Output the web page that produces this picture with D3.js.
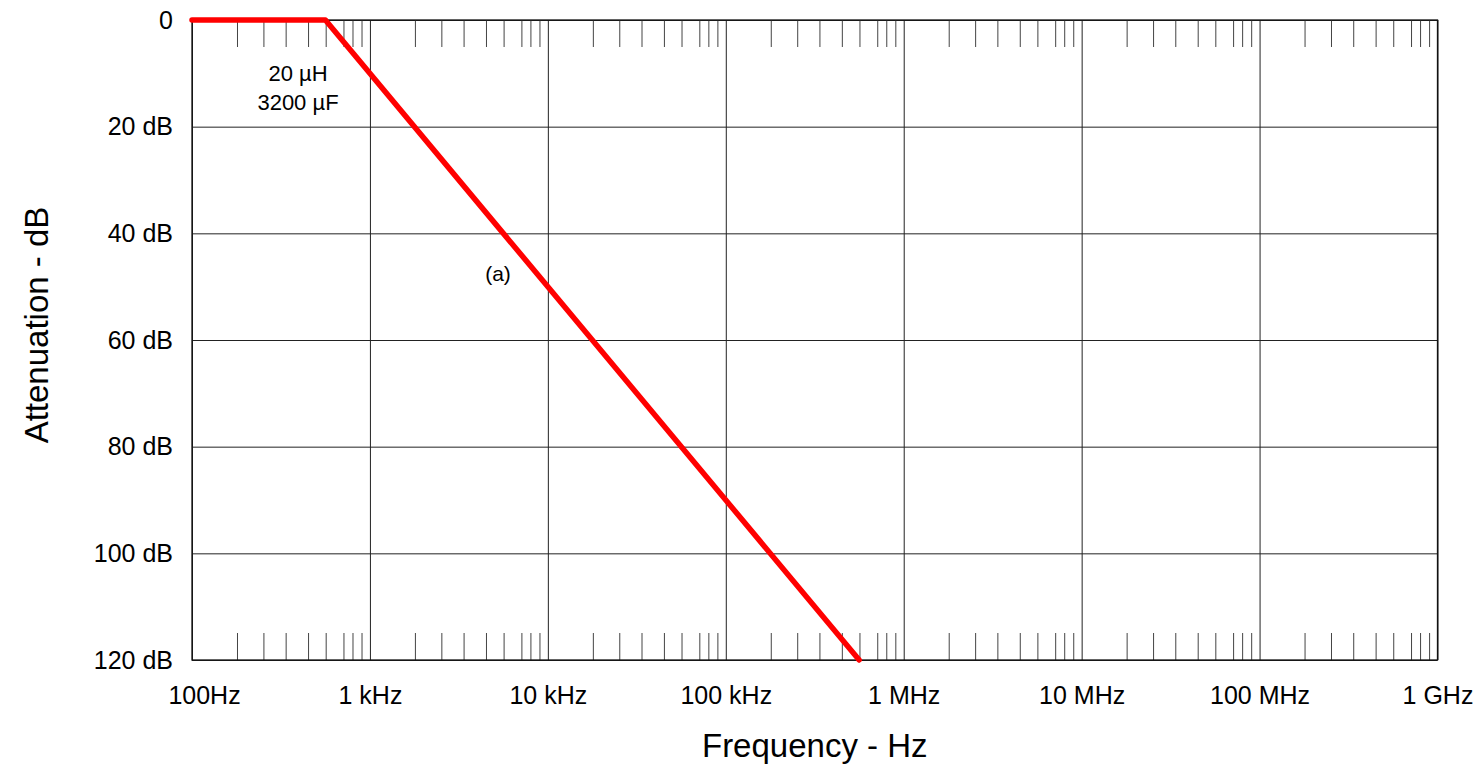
<!DOCTYPE html>
<html>
<head>
<meta charset="utf-8">
<script src="https://cdn.jsdelivr.net/npm/d3@7"></script>
<style>
  body { margin: 0; background: #fff; }
  svg text { font-family: "Liberation Sans", Arial, sans-serif; fill: #000; }
</style>
</head>
<body>
<div id="chart"></div>
<script>
// data
var freqHz = [100, 562, 562000];
var attenDb = [0, 0, 120];

var xTickValues = [1e2, 1e3, 1e4, 1e5, 1e6, 1e7, 1e8, 1e9];
var xTickLabels = ["100Hz", "1 kHz", "10 kHz", "100 kHz", "1 MHz", "10 MHz", "100 MHz", "1 GHz"];
var yTickValues = [0, 20, 40, 60, 80, 100, 120];
var yTickLabels = ["0", "20 dB", "40 dB", "60 dB", "80 dB", "100 dB", "120 dB"];
// minor tick multipliers inside each decade, as drawn in the picture
var minorSteps = [1.79, 2.52, 3.36, 4.49, 5.64, 7.1, 7.98, 8.97];

var noteLines = ["20 \u00b5H", "3200 \u00b5F"];
var curveLabel = "(a)";

var svgWidth = 1484;
var svgHeight = 768;
var margin = { top: 20, right: 46.5, bottom: 108, left: 192 };
var chart_width = svgWidth - margin.left - margin.right;
var chart_height = svgHeight - margin.top - margin.bottom;

var svg = d3.select("#chart")
    .append("svg")
    .attr("width", svgWidth)
    .attr("height", svgHeight);

var chartGroup = svg.append("g")
    .attr("transform", `translate(${margin.left}, ${margin.top})`);

var xScale = d3.scaleLog()
    .domain([1e2, 1e9])
    .range([0, chart_width]);

var yScale = d3.scaleLinear()
    .domain([0, 120])
    .range([0, chart_height]);

var minorTicks = [];
xTickValues.slice(0, -1).forEach(function(d) {
    minorSteps.forEach(k => minorTicks.push(d * k));
});

// grid lines
chartGroup.append("g")
    .attr("class", "xgrid")
    .call(d3.axisBottom(xScale).tickValues(xTickValues).tickSize(chart_height).tickFormat(""))
    .call(g => g.select(".domain").remove());

chartGroup.append("g")
    .attr("class", "ygrid")
    .call(d3.axisRight(yScale).tickValues(yTickValues).tickSize(chart_width).tickFormat(""))
    .call(g => g.select(".domain").remove());

chartGroup.selectAll(".xgrid line, .ygrid line")
    .attr("stroke", "#222")
    .attr("stroke-width", 1);

// minor ticks, top and bottom
chartGroup.append("g")
    .attr("class", "minor")
    .call(d3.axisBottom(xScale).tickValues(minorTicks).tickSize(27).tickFormat(""))
    .call(g => g.select(".domain").remove());

chartGroup.append("g")
    .attr("class", "minor")
    .attr("transform", `translate(0, ${chart_height})`)
    .call(d3.axisTop(xScale).tickValues(minorTicks).tickSize(27).tickFormat(""))
    .call(g => g.select(".domain").remove());

chartGroup.selectAll(".minor line")
    .attr("stroke", "#444")
    .attr("stroke-width", 1);

// frame
chartGroup.append("rect")
    .attr("width", chart_width)
    .attr("height", chart_height)
    .attr("fill", "none")
    .attr("stroke", "#111")
    .attr("stroke-width", 1.3);

// tick labels
var bottomAxis = d3.axisBottom(xScale)
    .tickValues(xTickValues)
    .tickSize(0)
    .tickPadding(0)
    .tickFormat((d, i) => xTickLabels[i]);

chartGroup.append("g")
    .attr("transform", `translate(0, ${chart_height})`)
    .call(bottomAxis)
    .call(g => g.select(".domain").remove())
    .selectAll("text")
    .attr("font-size", 25)
    .attr("dy", null)
    .attr("y", 44)
    .attr("dx", (d, i) => i === 0 ? 12 : 0);

var leftAxis = d3.axisLeft(yScale)
    .tickValues(yTickValues)
    .tickSize(0)
    .tickPadding(19)
    .tickFormat((d, i) => yTickLabels[i]);

chartGroup.append("g")
    .call(leftAxis)
    .call(g => g.select(".domain").remove())
    .selectAll("text")
    .attr("font-size", 25);

chartGroup.selectAll(".tick text").attr("font-family", "Liberation Sans, Arial, sans-serif");

// curve
var line = d3.line()
    .x((d, i) => xScale(freqHz[i]))
    .y((d, i) => yScale(attenDb[i]));

chartGroup.append("path")
    .datum(freqHz)
    .attr("d", line)
    .attr("fill", "none")
    .attr("stroke", "#ff0000")
    .attr("stroke-width", 5.5)
    .attr("stroke-linecap", "round")
    .attr("stroke-linejoin", "round");

// annotations
chartGroup.append("g")
    .selectAll("text")
    .data(noteLines)
    .enter()
    .append("text")
    .attr("x", 106)
    .attr("y", (d, i) => 61 + i * 29)
    .attr("text-anchor", "middle")
    .attr("font-size", 22)
    .text(d => d);

chartGroup.append("text")
    .attr("x", 306)
    .attr("y", 261)
    .attr("text-anchor", "middle")
    .attr("font-size", 21)
    .text(curveLabel);

// axis titles
svg.append("text")
    .attr("transform", `translate(${margin.left + chart_width / 2}, 757)`)
    .attr("text-anchor", "middle")
    .attr("font-size", 33)
    .text("Frequency - Hz");

svg.append("text")
    .attr("transform", "translate(48, 325) rotate(-90)")
    .attr("text-anchor", "middle")
    .attr("font-size", 33)
    .text("Attenuation - dB");
</script>
</body>
</html>
